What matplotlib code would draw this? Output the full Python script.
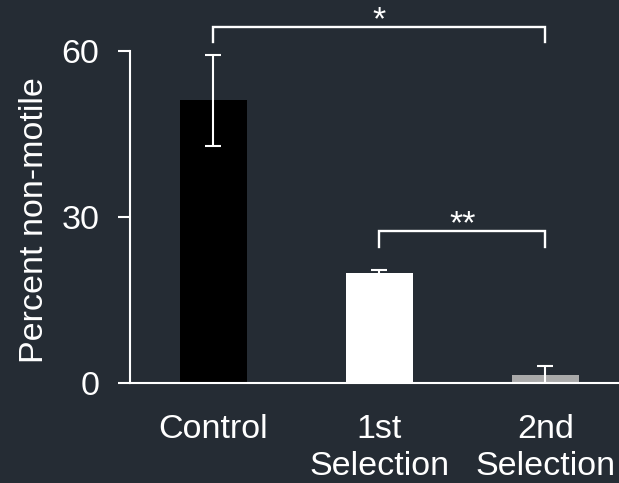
import numpy as np
import matplotlib
matplotlib.use('Agg')
import matplotlib.pyplot as plt

plt.rcParams['font.family'] = ['Liberation Sans', 'DejaVu Sans']

# data
groups = ['Control', '1st\nSelection', '2nd\nSelection']
means = [51.1, 19.9, 1.5]
errs = [8.2, 0.6, 1.5]
bar_colors = ['black', 'white', '#a9a9a9']

# significance brackets: (left group, right group, bracket height, leg bottom, label)
sig = [(0, 2, 64.4, 61.7, '*'),
       (1, 2, 27.5, 24.6, '**')]

bg = '#252c34'
fg = 'white'
fsize = 24.5

fig = plt.figure(figsize=(6.19, 4.83), dpi=100, facecolor=bg)
ax = fig.add_axes([130/619., 100/483., 489/619., 383/483.])
ax.set_facecolor(bg)

x = np.arange(len(groups))
ax.bar(x, means, width=0.4, color=bar_colors, zorder=2)
ax.errorbar(x, means, yerr=errs, fmt='none', ecolor=fg, elinewidth=1.5,
            capsize=5.8, capthick=1.5, zorder=3)

for g1, g2, h, low, lab in sig:
    ax.plot([x[g1], x[g1], x[g2], x[g2]], [low, h, h, low], color=fg,
            linewidth=1.7, clip_on=False, solid_joinstyle='miter', zorder=4)
    ax.text((x[g1] + x[g2]) / 2., h - 0.45, lab, ha='center', va='baseline',
            color=fg, fontsize=fsize)

ax.set_xlim(-0.503, 2.443)
ax.set_ylim(0, 69.2)

for s in ['top', 'right']:
    ax.spines[s].set_visible(False)
ax.spines['left'].set_bounds(0, 60)
ax.spines['left'].set_color(fg)
ax.spines['bottom'].set_color(fg)
ax.spines['left'].set_linewidth(1.5)
ax.spines['bottom'].set_linewidth(1.5)

ax.set_yticks([0, 30, 60])
ax.tick_params(axis='y', colors=fg, length=8.6, width=1.5, pad=13.5,
               labelsize=fsize)
ax.set_xticks(x)
ax.set_xticklabels(groups, linespacing=1.25)
ax.tick_params(axis='x', colors=fg, length=0, pad=22, labelsize=fsize)

fig.text(35/619., 1 - 220/483., 'Percent non-motile', rotation=90,
         ha='center', va='center', color=fg, fontsize=fsize)

fig.savefig('out.png', facecolor=bg)
